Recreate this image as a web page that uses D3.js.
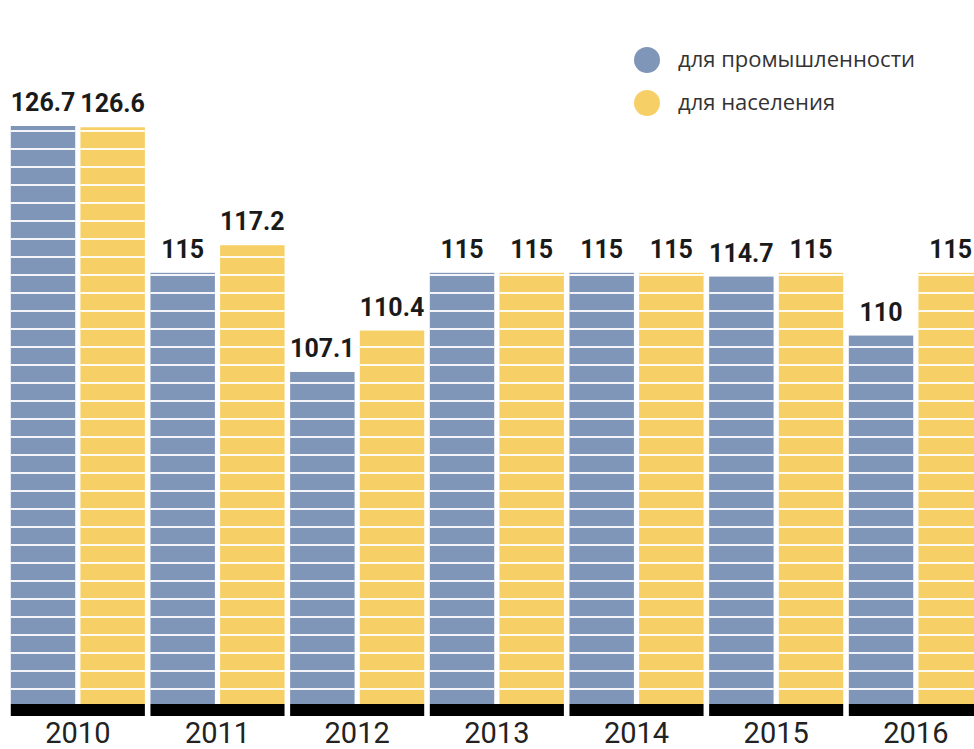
<!DOCTYPE html>
<html>
<head>
<meta charset="utf-8">
<script src="https://cdn.jsdelivr.net/npm/d3@7/dist/d3.min.js"></script>
<style>
  html, body { margin: 0; padding: 0; background: #fff; }
  svg { display: block; }
</style>
</head>
<body>
<svg id="chart" width="974" height="749"></svg>
<script>
const years = ["2010", "2011", "2012", "2013", "2014", "2015", "2016"];
const industry = [126.7, 115, 107.1, 115, 115, 114.7, 110];
const population = [126.6, 117.2, 110.4, 115, 115, 115, 115];
const seriesNames = ["для промышленности", "для населения"];
const seriesColors = ["#8096b9", "#f6d066"];

const W = 974, H = 749;
const svg = d3.select("#chart");

const baseY = 704;
const x = d3.scaleBand().domain(years).range([8, 8 + 7 * 139.67]).paddingInner(0.04).paddingOuter(0.02);
const xInner = d3.scaleBand().domain([0, 1]).range([0, x.bandwidth()]).paddingInner(0.075);
const y = d3.scaleLinear().domain([80.64, 126.7]).range([baseY, 126]);

const data = years.map((yr, i) => ({ year: yr, values: [industry[i], population[i]] }));

const groups = svg.append("g").selectAll("g.grp").data(data).join("g")
  .attr("class", "grp")
  .attr("transform", d => `translate(${x(d.year)},0)`);

// bars
groups.selectAll("rect.bar").data(d => d.values.map((v, s) => ({ v, s }))).join("rect")
  .attr("class", "bar")
  .attr("x", d => xInner(d.s))
  .attr("width", xInner.bandwidth())
  .attr("y", d => y(d.v))
  .attr("height", d => baseY - y(d.v))
  .attr("fill", d => seriesColors[d.s]);

// decorative stripes (every 18px from the base)
const stripePitch = 18, stripeOffset = 15;
groups.each(function (d) {
  const g = d3.select(this);
  d.values.forEach((v, s) => {
    const top = y(v);
    const lines = [];
    for (let yy = baseY - stripeOffset; yy > top + 2; yy -= stripePitch) lines.push(yy);
    g.selectAll(null).data(lines).join("line")
      .attr("x1", xInner(s)).attr("x2", xInner(s) + xInner.bandwidth())
      .attr("y1", l => l).attr("y2", l => l)
      .attr("stroke", "#ffffff").attr("stroke-width", 2).attr("stroke-opacity", 0.9);
  });
});

// value labels
groups.selectAll("text.val").data(d => d.values.map((v, s) => ({ v, s }))).join("text")
  .attr("class", "val")
  .attr("x", d => xInner(d.s) + xInner.bandwidth() / 2)
  .attr("y", d => y(d.v) - 15)
  .attr("text-anchor", "middle")
  .attr("font-family", "Roboto, sans-serif")
  .attr("font-weight", "bold")
  .attr("font-size", 25)
  .attr("fill", "#1a1a1a")
  .text(d => String(d.v));

// black base
groups.append("rect")
  .attr("x", 0).attr("width", x.bandwidth())
  .attr("y", baseY).attr("height", 12)
  .attr("fill", "#000");

// year labels
groups.append("text")
  .attr("x", x.bandwidth() / 2)
  .attr("y", 743)
  .attr("text-anchor", "middle")
  .attr("font-family", "Roboto, sans-serif")
  .attr("font-size", 29)
  .attr("fill", "#222")
  .text(d => d.year);

// legend
const legend = svg.append("g");
seriesNames.forEach((name, i) => {
  const ly = 60 + i * 43;
  legend.append("circle").attr("cx", 647).attr("cy", ly).attr("r", 13).attr("fill", seriesColors[i]);
  legend.append("text").attr("x", 678).attr("y", ly + 7)
    .attr("font-family", "'Open Sans', sans-serif")
    .attr("font-size", 22)
    .attr("fill", "#333")
    .text(name);
});
</script>
</body>
</html>
